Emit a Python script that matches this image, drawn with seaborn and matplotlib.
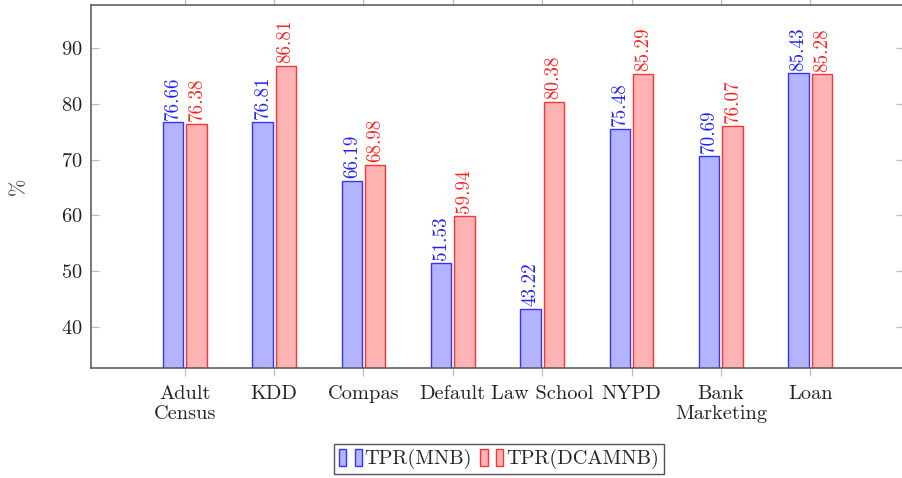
import pandas as pd
import matplotlib.pyplot as plt
import seaborn as sns
from matplotlib.patches import Patch
from matplotlib.legend_handler import HandlerTuple

# Data
datasets = ['Adult\nCensus', 'KDD', 'Compas', 'Default', 'Law School',
            'NYPD', 'Bank\nMarketing', 'Loan']
tpr_mnb = [76.66, 76.81, 66.19, 51.53, 43.22, 75.48, 70.69, 85.43]
tpr_dcamnb = [76.38, 86.81, 68.98, 59.94, 80.38, 85.29, 76.07, 85.28]
methods = ['TPR(MNB)', 'TPR(DCAMNB)']

df = pd.DataFrame({
    'dataset': datasets * 2,
    'value': tpr_mnb + tpr_dcamnb,
    'method': [methods[0]] * len(datasets) + [methods[1]] * len(datasets),
})

sns.set_theme(style='white')
plt.rcParams['font.family'] = ['cmr10', 'DejaVu Serif']
plt.rcParams['mathtext.fontset'] = 'cm'
plt.rcParams['axes.unicode_minus'] = False
plt.rcParams['axes.formatter.use_mathtext'] = True

fills = ['#b3b3ff', '#ffb3b3']
edges = ['#3333ff', '#ff3333']
text_cols = ['#2020ff', '#ff2020']

fig = plt.figure(figsize=(9.02, 4.78), dpi=100)
ax = fig.add_axes([91 / 902, 110 / 478, 813 / 902, 363 / 478])

sns.barplot(data=df, x='dataset', y='value', hue='method', palette=fills,
            saturation=1, width=0.52, gap=0.12, linewidth=1.0, ax=ax,
            legend=False)

for i, cont in enumerate(ax.containers):
    for bar in cont:
        bar.set_edgecolor(edges[i])
    ax.bar_label(cont, fmt='%.2f', rotation=90, padding=2, fontsize=13.8,
                 color=text_cols[i])

ax.set_xlim(-1.05, 8.05)
ax.set_ylim(32.65, 97.7)
ax.set_yticks([40, 50, 60, 70, 80, 90])
ax.set_xlabel('')
ax.set_ylabel('%', fontsize=15, labelpad=24)

for s in ax.spines.values():
    s.set_color('#555555')
    s.set_linewidth(1.1)

ax.tick_params(axis='x', which='both', direction='out', top=True, bottom=True,
               length=6, width=0.9, color='#bbbbbb', labelsize=14.7, pad=6,
               labelcolor='#222222')
ax.tick_params(axis='y', which='both', direction='in', left=True, right=True,
               length=6, width=0.9, color='#bbbbbb', labelsize=14.7, pad=6,
               labelcolor='#222222')

handles = [
    (Patch(facecolor=fills[0], edgecolor=edges[0]), Patch(facecolor=fills[0], edgecolor=edges[0])),
    (Patch(facecolor=fills[1], edgecolor=edges[1]), Patch(facecolor=fills[1], edgecolor=edges[1])),
]
fig.legend(handles, methods, loc='center', bbox_to_anchor=(499 / 902, 19 / 478),
           ncol=2, fontsize=14.7, frameon=True, fancybox=False,
           edgecolor='#555555', framealpha=1,
           handler_map={tuple: HandlerTuple(ndivide=None, pad=0.4)},
           handlelength=1.1, handleheight=0.9, handletextpad=0.15,
           columnspacing=0.4, borderpad=0.25, borderaxespad=0)

plt.savefig('out.png', dpi=100)
